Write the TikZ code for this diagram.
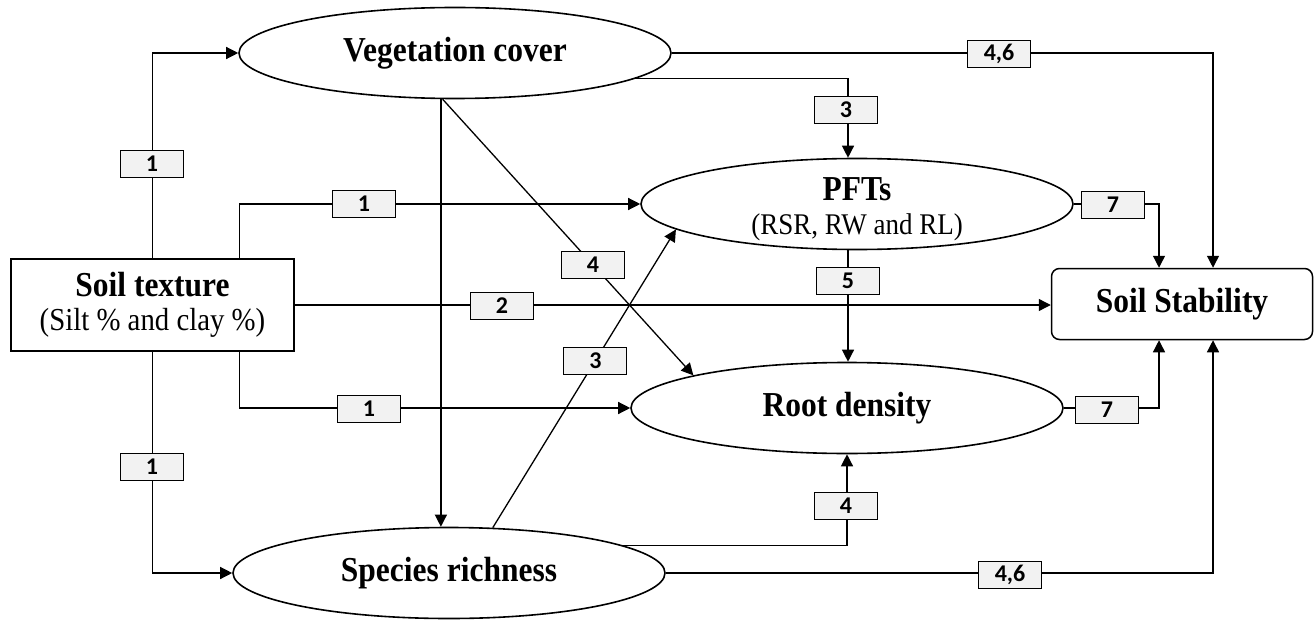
\documentclass[tikz,border=0pt]{standalone}
\usepackage{fontspec}
\setmainfont{Liberation Serif}
\newfontfamily\condserif[FakeStretch=0.9]{Liberation Serif}
\newfontfamily\labfont{Carlito}
\usetikzlibrary{shapes.geometric,arrows.meta,calc}
\begin{document}
\begin{tikzpicture}[x=0.5pt,y=-0.5pt,
  ell/.style={ellipse,draw,line width=0.8pt,minimum width=216pt,minimum height=45.5pt,inner sep=0pt},
  sqbox/.style={draw,line width=0.75pt,inner sep=0pt},
  lab/.style={draw,fill=gray!10,line width=0.6pt,minimum width=31.5pt,minimum height=13.5pt,inner sep=0pt,font=\labfont\bfseries\fontsize{12}{12}\selectfont},
  con/.style={line width=0.65pt},
  arr/.style={line width=0.65pt,-{Triangle[length=6pt,width=6pt]}},
  ttl/.style={align=center,font=\condserif\bfseries\fontsize{17.5}{17}\selectfont}
]
\useasboundingbox (0,0) rectangle (1315,620);
% main nodes
\node[ell] (veg) at (455,53) {};
\node[ell] (pft) at (857,204) {};
\node[ell] (root) at (847,408) {};
\node[ell] (sr) at (449,573) {};
\node[sqbox,minimum width=141.5pt,minimum height=46pt] (st) at (152.5,305) {};
\node[sqbox,rounded corners=4pt,minimum width=130.5pt,minimum height=35.5pt] (ss) at (1182,304) {};
% texts
\node[ttl] (vegT) at (veg) {Vegetation cover};
\node[ttl] (pftT) at (857,209) {PFTs\\[0pt]{\fontsize{15}{17}\mdseries\selectfont (RSR, RW and RL)}};
\node[ttl] (rootT) at (root) {Root density};
\node[ttl] (srT) at (sr) {Species richness};
\node[ttl] (stT) at (st) {Soil texture\\[0pt]{\fontsize{16}{17}\mdseries\selectfont (Silt \% and clay \%)}};
\node[ttl] (ssT) at (ss) {Soil Stability};
% connectors
\draw[arr] (st.north) |- (veg.west);
\draw[arr] ($(st.north east)+(-55,0)$) |- (pft.west);
\draw[arr] ($(st.south east)+(-55,0)$) |- (root.west);
\draw[arr] (st.south) |- (sr.west);
\draw[arr] (st.east) -- (st.east -| ss.west);
\draw[arr] (veg.east) -| ($(ss.north)+(31,0)$);
\draw[arr] (sr.east) -| ($(ss.south)+(31,0)$);
\draw[arr] (pft.east) -| ($(ss.north)+(-23,0)$);
\draw[arr] (root.east) -| ($(ss.south)+(-23,0)$);
\draw[arr] (veg.-8) -| ($(pft.north)+(-9,0)$);
\draw[arr] ($(pft.south)+(-9,0)$) coordinate (p5) -- (p5 |- root.north);
\draw[arr] (sr.9) -| (root.south);
\draw[arr] (veg.253) coordinate (v1) -- (v1 |- sr.north);
\draw[arr] (veg.255) -- (root.168) node[lab,pos=0.6] (l4a) {4};
\draw[arr] (sr.46) -- (pft.188) node[lab,pos=0.56] (l3b) {3};
% labels
\node[lab] (l1a) at (152,164) {1};
\node[lab] (l1b) at (364,204) {1};
\node[lab] (l46a) at (999,54) {4,6};
\node[lab] (l3a) at (846,110) {3};
\node[lab] (l7a) at (1113,205) {7};
\node[lab] (l5) at (848,281) {5};
\node[lab] (l2) at (502,306) {2};
\node[lab] (l1c) at (369,409) {1};
\node[lab] (l7b) at (1107,410) {7};
\node[lab] (l1d) at (152,467) {1};
\node[lab] (l4b) at (846,506) {4};
\node[lab] (l46b) at (1010,575) {4,6};
\end{tikzpicture}
\end{document}
